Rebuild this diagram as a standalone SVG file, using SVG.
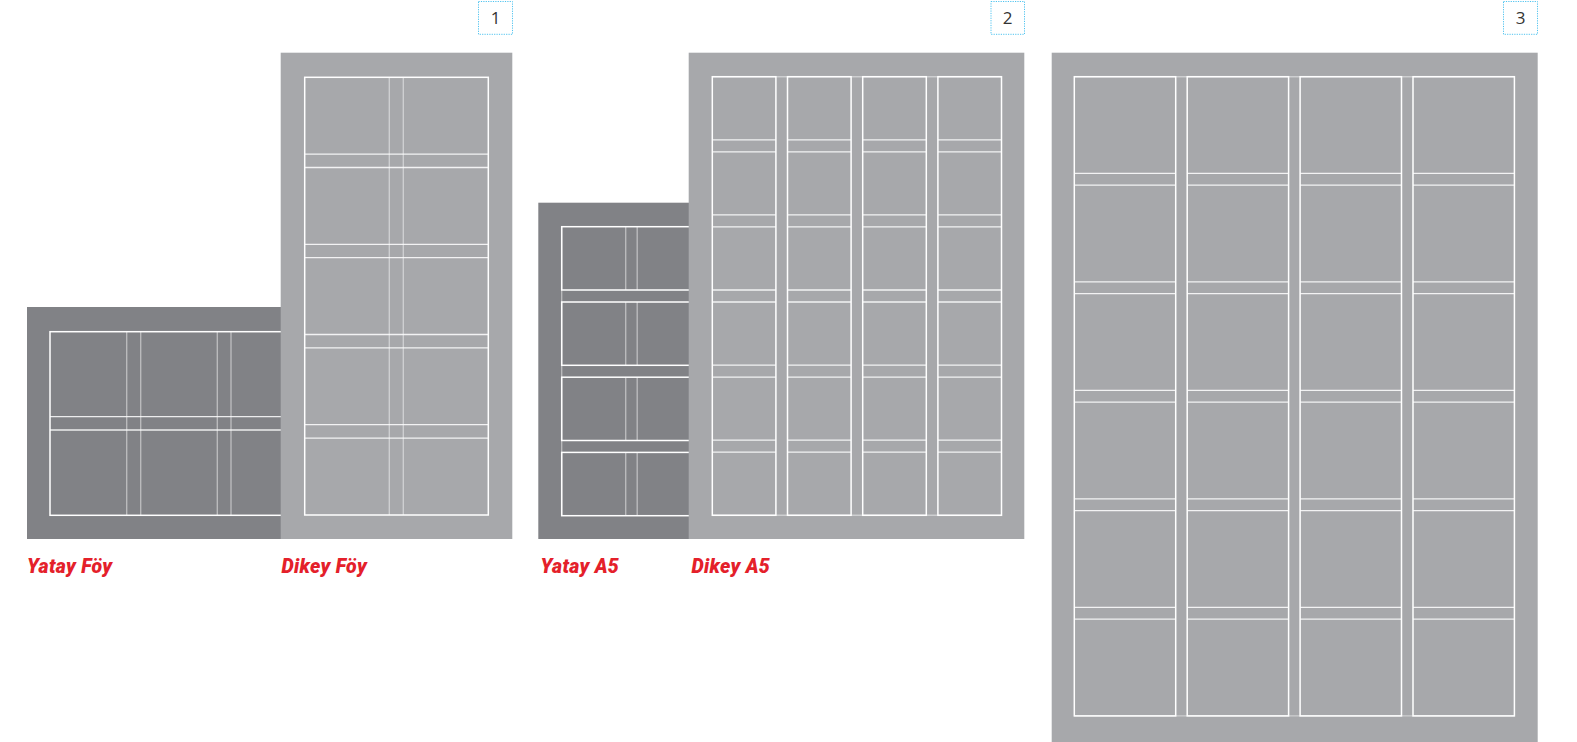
<svg xmlns="http://www.w3.org/2000/svg" xmlns:xlink="http://www.w3.org/1999/xlink" width="1577" height="742" viewBox="0 0 1577 742">
<style>
.dark{fill:#818286}
.light{fill:#a7a8ab}
.fr{fill:none;stroke:#ffffff;stroke-width:1.5}
.ln{fill:none;stroke:#ffffff;stroke-width:1.3;stroke-opacity:0.85}
.dim{fill:none;stroke:#ffffff;stroke-width:1.4;stroke-opacity:0.45}
.lbl{font-family:Roboto,"Liberation Sans",sans-serif;font-size:19.5px;font-weight:900;font-style:italic;fill:#e4202a;letter-spacing:0.3px}
.box{fill:none;stroke:#4fc3ef;stroke-width:1;stroke-dasharray:1.2 1.2}
.num{font-family:"Open Sans","Liberation Sans",sans-serif;font-size:17px;fill:#333333;text-anchor:middle}
</style>
<defs>
<g id="a5col">
<rect class="fr" x="0" y="76.7" width="63.6" height="438.6"/>
<path class="ln" d="M0 139.8H63.6M0 151.8H63.6M0 214.9H63.6M0 226.9H63.6M0 290H63.6M0 302H63.6M0 365.1H63.6M0 377.1H63.6M0 440.2H63.6M0 452.2H63.6"/>
</g>
<g id="a5row">
<rect class="fr" x="0" y="0" width="438.6" height="63.3"/>
<path class="dim" d="M64 0V63.3M75.5 0V63.3M139.5 0V63.3M151 0V63.3M215 0V63.3M226.5 0V63.3"/>
</g>
<g id="p3col">
<rect class="fr" x="0" y="76.7" width="101.4" height="639.2"/>
<path class="ln" d="M0 173.4H101.4M0 185.2H101.4M0 281.9H101.4M0 293.7H101.4M0 390.4H101.4M0 402.2H101.4M0 498.9H101.4M0 510.7H101.4M0 607.4H101.4M0 619.2H101.4"/>
</g>
</defs>

<g id="yatay-foy">
<rect class="dark" x="27" y="307" width="270" height="232"/>
<rect class="fr" x="50" y="331.7" width="437.7" height="183.6"/>
<path class="dim" d="M126.7 331.7V515.3M140.7 331.7V515.3M217.3 331.7V515.3M231 331.7V515.3"/>
<path class="ln" d="M50 416.7H487.7M50 430H487.7"/>
</g>

<g id="dikey-foy">
<rect class="light" x="280.7" y="52.7" width="231.6" height="486.3"/>
<rect class="fr" x="304.7" y="77.3" width="183.6" height="437.7"/>
<path class="dim" d="M389.3 77.3V515M403.3 77.3V515"/>
<path class="ln" d="M304.7 154.1H488.3M304.7 167.5H488.3M304.7 244.3H488.3M304.7 257.7H488.3M304.7 334.5H488.3M304.7 347.9H488.3M304.7 424.7H488.3M304.7 438.1H488.3"/>
</g>

<g id="yatay-a5">
<rect class="dark" x="538.3" y="202.7" width="200" height="336.3"/>
<path class="dim" d="M561.7 226.7V515.7"/>
<use xlink:href="#a5row" x="561.7" y="226.7"/>
<use xlink:href="#a5row" x="561.7" y="302"/>
<use xlink:href="#a5row" x="561.7" y="377.2"/>
<use xlink:href="#a5row" x="561.7" y="452.4"/>
</g>

<g id="dikey-a5">
<rect class="light" x="688.7" y="52.7" width="335.6" height="486.3"/>
<path class="dim" d="M712.3 76.7H1001.5M712.3 515.3H1001.5"/>
<use xlink:href="#a5col" x="712.3"/>
<use xlink:href="#a5col" x="787.5"/>
<use xlink:href="#a5col" x="862.7"/>
<use xlink:href="#a5col" x="937.9"/>
</g>

<g id="panel-3">
<rect class="light" x="1051.7" y="52.7" width="486" height="690"/>
<path class="dim" d="M1074.3 76.7H1514.4M1074.3 715.9H1514.4"/>
<use xlink:href="#p3col" x="1074.3"/>
<use xlink:href="#p3col" x="1187.2"/>
<use xlink:href="#p3col" x="1300.1"/>
<use xlink:href="#p3col" x="1413"/>
</g>

<g id="labels">
<text class="lbl" x="27" y="572.5">Yatay Föy</text>
<text class="lbl" x="281.5" y="572.5">Dikey Föy</text>
<text class="lbl" x="540.5" y="572.5">Yatay A5</text>
<text class="lbl" x="691.5" y="572.5">Dikey A5</text>
</g>

<g id="num-1">
<rect class="box" x="478.5" y="1.5" width="34" height="32.8"/>
<text class="num" x="495.5" y="24">1</text>
</g>
<g id="num-2">
<rect class="box" x="991" y="1.5" width="33.5" height="32.8"/>
<text class="num" x="1007.7" y="24">2</text>
</g>
<g id="num-3">
<rect class="box" x="1503.5" y="1.5" width="34" height="32.8"/>
<text class="num" x="1520.5" y="24">3</text>
</g>
</svg>
